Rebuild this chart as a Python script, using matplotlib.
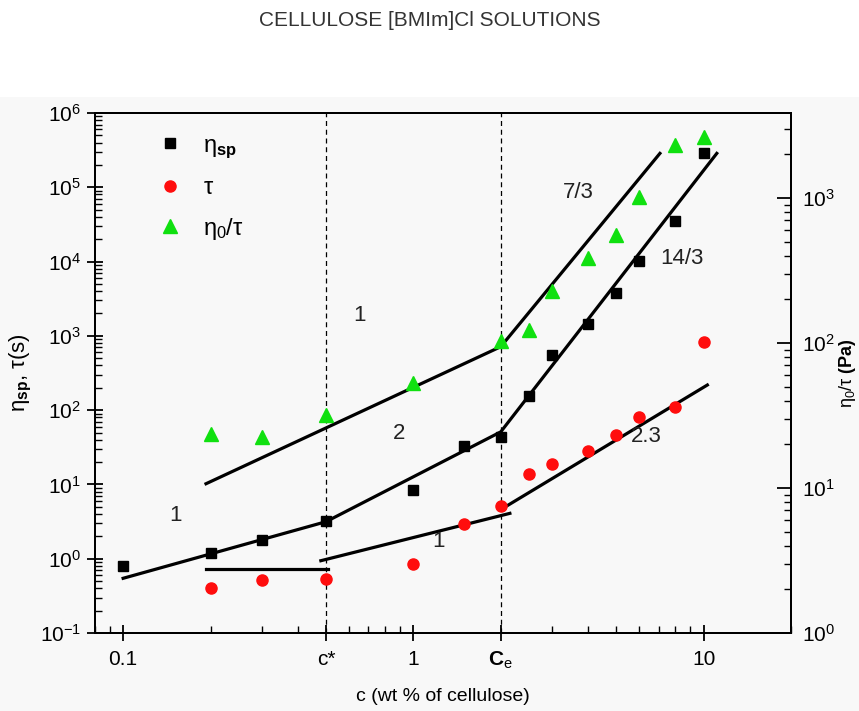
import numpy as np
import matplotlib
matplotlib.use("Agg")
import matplotlib.pyplot as plt
from matplotlib.patches import Rectangle
from matplotlib.ticker import LogLocator, NullFormatter, FixedLocator

plt.rcParams["font.family"] = ["Liberation Sans", "DejaVu Sans"]
plt.rcParams["mathtext.fontset"] = "custom"
plt.rcParams["mathtext.rm"] = "Liberation Sans"
plt.rcParams["mathtext.it"] = "Liberation Sans"
plt.rcParams["mathtext.bf"] = "Liberation Sans:bold"

# data
c_eta = [0.1, 0.2, 0.3, 0.5, 1, 1.5, 2, 2.5, 3, 4, 5, 6, 8, 10]
eta_sp = [0.8, 1.2, 1.8, 3.2, 8.4, 33, 43, 155, 550, 1450, 3800, 10200, 35000, 290000]

c_tau = [0.2, 0.3, 0.5, 1, 1.5, 2, 2.5, 3, 4, 5, 6, 8, 10]
tau = [0.40, 0.52, 0.54, 0.84, 2.9, 5.1, 14, 18.6, 28, 47, 81, 111, 820]

c_ratio = [0.2, 0.3, 0.5, 1, 2, 2.5, 3, 4, 5, 6, 8, 10]
ratio = [23.5, 22.6, 32, 53, 103, 122, 228, 387, 556, 1010, 2320, 2640]

# fitted power-law lines
eta_fit_c = [0.1, 0.5, 2, 11.1]
eta_fit_y = [0.545, 3.15, 51, 2.86e5]
tau_fit_segments = [
    ([0.193, 0.508], [0.73, 0.73]),
    ([0.48, 2.15], [0.94, 4.08]),
    ([2.05, 10.3], [4.86, 218]),
]
ratio_fit_c = [0.193, 2, 7.07]
ratio_fit_y = [10.7, 94.3, 2030]

c_star, c_e = 0.5, 2

slope_labels = ["1", "2", "1", "1", "7/3", "14/3", "2.3"]
slope_pos = [(0.65, 1860), (0.89, 49), (0.152, 3.76), (1.22, 1.68),
             (3.7, 85000), (8.4, 11100), (6.36, 43.6)]

fig = plt.figure(figsize=(8.59, 7.11), dpi=100)
fig.patch.set_facecolor("white")
fig.patches.append(Rectangle((0, 0), 1, 1 - 97 / 711, transform=fig.transFigure,
                             facecolor="#f8f8f8", edgecolor="none", zorder=-10))

ax = fig.add_axes([95 / 859, 1 - 633 / 711, 696 / 859, 520 / 711])
ax.set_facecolor("#f8f8f8")
ax2 = ax.twinx()
ax2.xaxis.set_visible(False)

ax.set_xscale("log")
ax.set_yscale("log")
ax2.set_yscale("log")
ax.set_xlim(0.08, 20)
ax.set_ylim(0.1, 1e6)
ax2.set_ylim(1, 10 ** 3.586)

# dashed markers for c* and ce
for xv in (c_star, c_e):
    ax.axvline(xv, color="black", linestyle=(0, (4, 3)), linewidth=0.9, zorder=1)

# fits
ax.plot(eta_fit_c, eta_fit_y, color="black", linewidth=2.3, zorder=2)
for xs, ys in tau_fit_segments:
    ax.plot(xs, ys, color="black", linewidth=2.3, zorder=2)
ax2.plot(ratio_fit_c, ratio_fit_y, color="black", linewidth=2.3, zorder=2)

# data
h1, = ax.plot(c_eta, eta_sp, "s", color="black", markersize=6.5, zorder=3,
              label=r"$\eta_{\mathbf{sp}}$")
h2, = ax.plot(c_tau, tau, "o", color="#ff0d0d", markersize=8, zorder=3,
              label=r"$\tau$")
h3, = ax2.plot(c_ratio, ratio, "^", color="#10e010", markersize=10.5, zorder=3,
               label=r"$\eta_0/\tau$")

for txt, (xv, yv) in zip(slope_labels, slope_pos):
    ax.text(xv, yv, txt, fontsize=16, color="#222222", ha="center", va="center")

# ticks
ax.xaxis.set_major_locator(FixedLocator([0.1, c_star, 1, c_e, 10]))
ax.set_xticklabels(["0.1", "c*", "1", r"$\mathbf{C}_{\mathregular{e}}$", "10"])
ax.xaxis.set_minor_locator(LogLocator(base=10, subs=np.arange(2, 10)))
ax.xaxis.set_minor_formatter(NullFormatter())
ax.yaxis.set_major_locator(LogLocator(base=10, numticks=10))
ax.yaxis.set_minor_locator(LogLocator(base=10, subs=np.arange(2, 10), numticks=10))
ax.yaxis.set_minor_formatter(NullFormatter())
ax2.yaxis.set_major_locator(LogLocator(base=10, numticks=10))
ax2.yaxis.set_minor_locator(LogLocator(base=10, subs=np.arange(2, 10), numticks=10))
ax2.yaxis.set_minor_formatter(NullFormatter())

ax.tick_params(axis="both", which="major", direction="inout", length=12, width=1.3,
               labelsize=15, pad=4)
ax.tick_params(axis="both", which="minor", direction="in", length=5, width=1,
               labelbottom=False, labelleft=False)
ax.tick_params(axis="x", which="major", pad=6)
ax.tick_params(top=False, which="both")
ax2.tick_params(axis="y", which="major", direction="in", length=10, width=1.3,
                labelsize=15, pad=8)
ax2.tick_params(axis="y", which="minor", direction="in", length=5, width=1,
                labelright=False)

for sp in list(ax.spines.values()) + list(ax2.spines.values()):
    sp.set_linewidth(1.4)

ax.set_xlabel("c (wt % of cellulose)", fontsize=14, labelpad=12)
ax.set_ylabel(r"$\eta_{\mathbf{sp}}$, $\tau$(s)", fontsize=16, labelpad=4)
ax2.set_ylabel(r"$\eta_0/\tau$ $\mathbf{(Pa)}$", fontsize=13)
ax2.yaxis.set_label_coords(1.066, 0.5)

ax.legend(handles=[h1, h2, h3], loc="upper left", bbox_to_anchor=(0.05, 0.99),
          frameon=False, fontsize=17, labelspacing=0.7, handletextpad=0.4,
          borderaxespad=0.3)

fig.text(0.5, 1 - 20 / 711, "CELLULOSE [BMIm]Cl SOLUTIONS", ha="center", va="center",
         fontsize=15, color="#333333")

fig.savefig("out.png", dpi=100)
